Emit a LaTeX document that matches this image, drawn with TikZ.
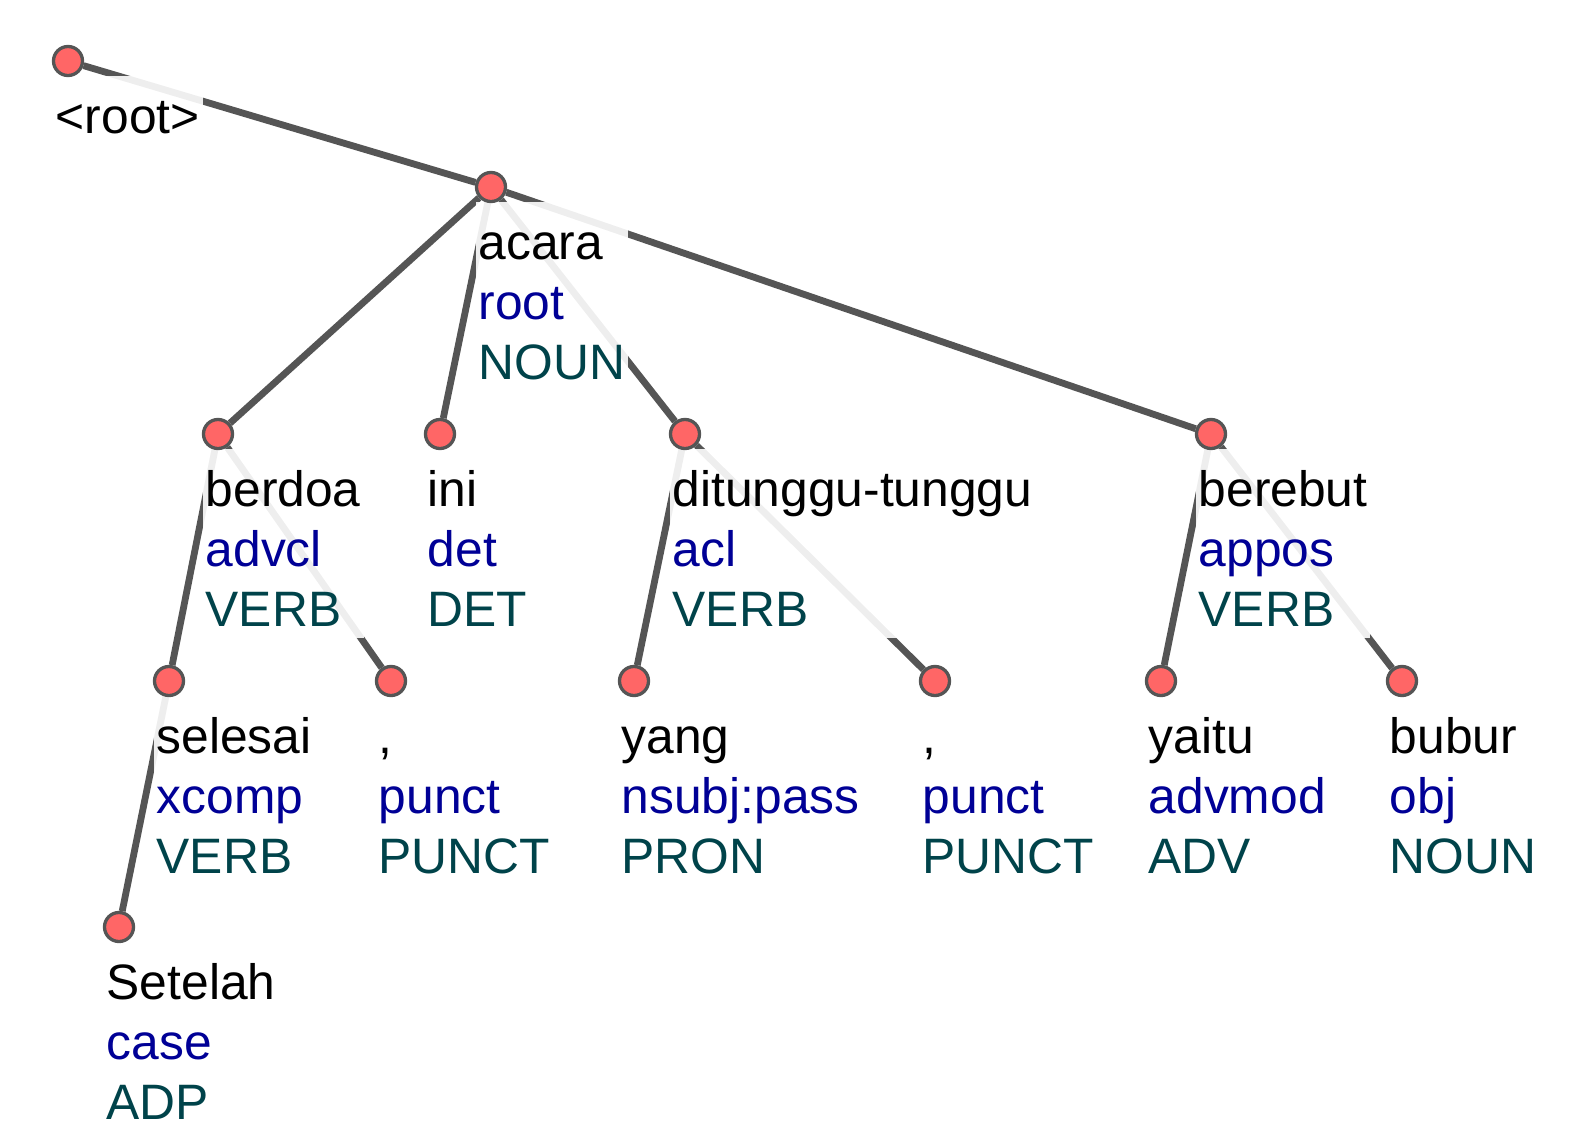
\documentclass[tikz,border=0pt]{standalone}
\usepackage{fontspec}
\setmainfont{Liberation Sans}
\usepackage{xcolor}
\definecolor{edgegray}{HTML}{555555}
\definecolor{dotred}{HTML}{FF6666}
\definecolor{relblue}{HTML}{000096}
\definecolor{postag}{HTML}{00434A}
\usetikzlibrary{calc}
\pgfdeclarelayer{edges}
\pgfdeclarelayer{halo}
\pgfsetlayers{edges,halo,main}

\newcommand{\deplab}[3]{\rule{0pt}{0.58cm}#1\\\textcolor{relblue}{#2}\\\textcolor{postag}{#3}\rule[-0.11cm]{0pt}{0pt}}

\begin{document}
\begin{tikzpicture}[x=0.01cm, y=-0.01cm,
  tok/.style={circle, fill=dotred, draw=edgegray, line width=0.033cm, minimum size=0.29cm, inner sep=0pt},
  dep/.style={edgegray, line width=0.068cm},
  lab/.style={anchor=north west, inner xsep=0.03cm, inner ysep=0pt, align=left, fill=white, fill opacity=0.9, text opacity=1,
    font=\fontsize{14.15pt}{17.07pt}\selectfont}]

  \useasboundingbox (0,0) rectangle (1593,1136);

  % Tokens
  \node[tok] (root) at (68,61) {};
  \node[tok] (acara) at (491,187) {};
  \node[tok] (berdoa) at (218,434) {};
  \node[tok] (ini) at (440,434) {};
  \node[tok] (ditunggu) at (685,434) {};
  \node[tok] (berebut) at (1211,434) {};
  \node[tok] (selesai) at (169,681) {};
  \node[tok] (koma1) at (391,681) {};
  \node[tok] (yang) at (634,681) {};
  \node[tok] (koma2) at (935,681) {};
  \node[tok] (yaitu) at (1161,681) {};
  \node[tok] (bubur) at (1402,681) {};
  \node[tok] (setelah) at (119,927) {};

  % Labels (kata, relasi, POS)
  \begin{pgfonlayer}{halo}
  \node[lab] (root-lab) at ($(root)+(-16,14)$) {\rule{0pt}{0.58cm}<root>\rule[-0.11cm]{0pt}{0pt}};
  \node[lab] (acara-lab) at ($(acara)+(-16,14)$) {\deplab{acara}{root}{NOUN}};
  \node[lab] (berdoa-lab) at ($(berdoa)+(-16,14)$) {\deplab{berdoa}{advcl}{VERB}};
  \node[lab] (ini-lab) at ($(ini)+(-16,14)$) {\deplab{ini}{det}{DET}};
  \node[lab] (ditunggu-lab) at ($(ditunggu)+(-16,14)$) {\deplab{ditunggu-tunggu}{acl}{VERB}};
  \node[lab] (berebut-lab) at ($(berebut)+(-16,14)$) {\deplab{berebut}{appos}{VERB}};
  \node[lab] (selesai-lab) at ($(selesai)+(-16,14)$) {\deplab{selesai}{xcomp}{VERB}};
  \node[lab] (koma1-lab) at ($(koma1)+(-16,14)$) {\deplab{,}{punct}{PUNCT}};
  \node[lab] (yang-lab) at ($(yang)+(-16,14)$) {\deplab{yang}{nsubj:pass}{PRON}};
  \node[lab] (koma2-lab) at ($(koma2)+(-16,14)$) {\deplab{,}{punct}{PUNCT}};
  \node[lab] (yaitu-lab) at ($(yaitu)+(-16,14)$) {\deplab{yaitu}{advmod}{ADV}};
  \node[lab] (bubur-lab) at ($(bubur)+(-16,14)$) {\deplab{bubur}{obj}{NOUN}};
  \node[lab] (setelah-lab) at ($(setelah)+(-16,14)$) {\deplab{Setelah}{case}{ADP}};
  \end{pgfonlayer}

  % Busur dependensi
  \begin{pgfonlayer}{edges}
  \draw[dep] (root) -- (acara);
  \draw[dep] (acara) -- (berdoa);
  \draw[dep] (acara) -- (ini);
  \draw[dep] (acara) -- (ditunggu);
  \draw[dep] (acara) -- (berebut);
  \draw[dep] (berdoa) -- (selesai);
  \draw[dep] (berdoa) -- (koma1);
  \draw[dep] (selesai) -- (setelah);
  \draw[dep] (ditunggu) -- (yang);
  \draw[dep] (ditunggu) -- (koma2);
  \draw[dep] (berebut) -- (yaitu);
  \draw[dep] (berebut) -- (bubur);
  \end{pgfonlayer}

\end{tikzpicture}
\end{document}
